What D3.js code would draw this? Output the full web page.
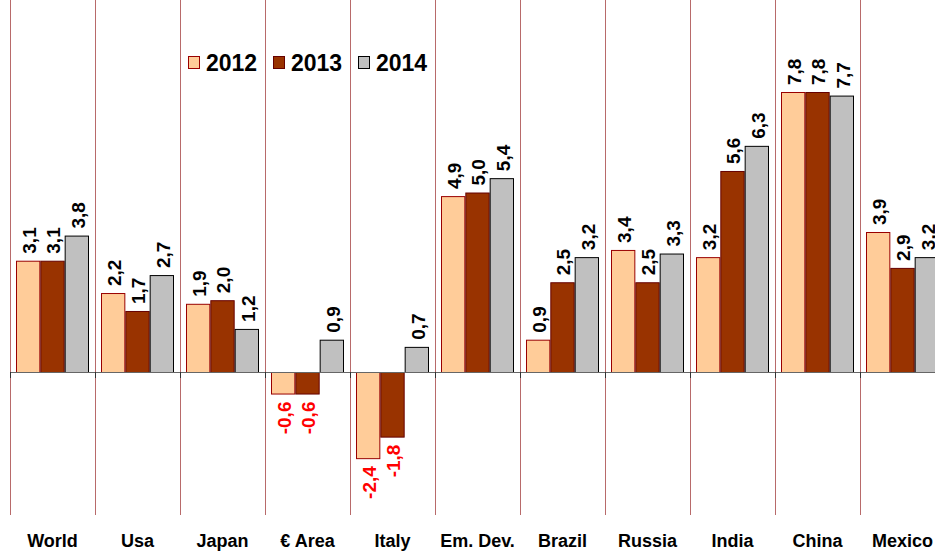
<!DOCTYPE html>
<html>
<head>
<meta charset="utf-8">
<script src="https://cdn.jsdelivr.net/npm/d3@7"></script>
<style>
  body { margin: 0; background: #fff; }
  svg { display: block; font-family: Arial, "Liberation Sans", sans-serif; }
</style>
</head>
<body>
<div id="chart"></div>
<script>
const categories = ["World", "Usa", "Japan", "€ Area", "Italy", "Em. Dev.", "Brazil", "Russia", "India", "China", "Mexico"];
const years = ["2012", "2013", "2014"];
const v2012 = [3.1, 2.2, 1.9, -0.6, -2.4, 4.9, 0.9, 3.4, 3.2, 7.8, 3.9];
const v2013 = [3.1, 1.7, 2.0, -0.6, -1.8, 5.0, 2.5, 2.5, 5.6, 7.8, 2.9];
const v2014 = [3.8, 2.7, 1.2, 0.9, 0.7, 5.4, 3.2, 3.3, 6.3, 7.7, 3.2];

const series = [v2012, v2013, v2014];
const fills = ["#FFCC99", "#993300", "#C0C0C0"];
const strokes = ["#990000", "#660000", "#000000"];

const width = 935, height = 551;
const svg = d3.select("#chart").append("svg")
  .attr("width", width)
  .attr("height", height);

const x = d3.scaleBand().domain(categories).range([10, 945]).padding(0);
const xInner = d3.scaleBand().domain(years).range([6, x.bandwidth() - 6]).padding(0);
const y = d3.scaleLinear().domain([0, 7.8]).range([372, 92]);

// vertical separators
svg.append("g")
  .selectAll("line")
  .data(categories)
  .join("line")
  .attr("x1", d => x(d) + 0.5)
  .attr("x2", d => x(d) + 0.5)
  .attr("y1", 0)
  .attr("y2", 515)
  .attr("stroke", "#B86A6A")
  .attr("stroke-width", 1);

// bars
const groups = svg.append("g")
  .selectAll("g")
  .data(categories)
  .join("g")
  .attr("transform", d => `translate(${x(d)},0)`);

groups.each(function (cat, ci) {
  const g = d3.select(this);
  years.forEach((yr, si) => {
    const v = series[si][ci];
    g.append("rect")
      .attr("x", xInner(yr) + 0.5)
      .attr("width", xInner.bandwidth() - 1)
      .attr("y", Math.min(y(v), y(0)) + 0.5)
      .attr("height", Math.abs(y(v) - y(0)))
      .attr("fill", fills[si])
      .attr("stroke", strokes[si])
      .attr("stroke-width", 1);
  });
});

// zero axis
const axisG = svg.append("g");
axisG.append("line")
  .attr("x1", 10).attr("x2", 945)
  .attr("y1", y(0) + 0.5).attr("y2", y(0) + 0.5)
  .attr("stroke", "#666").attr("stroke-width", 1.2);
axisG.selectAll("line.tick")
  .data(categories)
  .join("line")
  .attr("class", "tick")
  .attr("x1", d => x(d) + 0.5).attr("x2", d => x(d) + 0.5)
  .attr("y1", y(0)).attr("y2", y(0) + 6)
  .attr("stroke", "#333");

// value labels
groups.each(function (cat, ci) {
  const g = d3.select(this);
  years.forEach((yr, si) => {
    const v = series[si][ci];
    const cx = xInner(yr) + xInner.bandwidth() / 2 + 1;
    const ty = v >= 0 ? y(v) - 7 : y(v) + 8;
    g.append("text")
      .attr("transform", `translate(${cx},${ty}) rotate(-90)`)
      .attr("dy", "0.36em")
      .attr("text-anchor", v >= 0 ? "start" : "end")
      .attr("font-size", 19)
      .attr("font-weight", "bold")
      .attr("fill", v >= 0 ? "#000" : "#FF0000")
      .text(String(v.toFixed(1)).replace(".", ","));
  });
});

// category labels
svg.append("g")
  .selectAll("text")
  .data(categories)
  .join("text")
  .attr("x", d => x(d) + x.bandwidth() / 2)
  .attr("y", 547)
  .attr("text-anchor", "middle")
  .attr("font-size", 18)
  .attr("font-weight", "bold")
  .attr("fill", "#000")
  .text(d => d);

// legend
const legend = svg.append("g").attr("transform", "translate(188,56)");
const legendX = [0, 85, 170];
years.forEach((yr, i) => {
  const lg = legend.append("g").attr("transform", `translate(${legendX[i]},0)`);
  lg.append("rect")
    .attr("x", 0.5).attr("y", 0.5)
    .attr("width", 11).attr("height", 12)
    .attr("fill", fills[i])
    .attr("stroke", strokes[i]);
  lg.append("text")
    .attr("x", 18).attr("y", 15)
    .attr("font-size", 23)
    .attr("font-weight", "bold")
    .text(yr);
});
</script>
</body>
</html>
